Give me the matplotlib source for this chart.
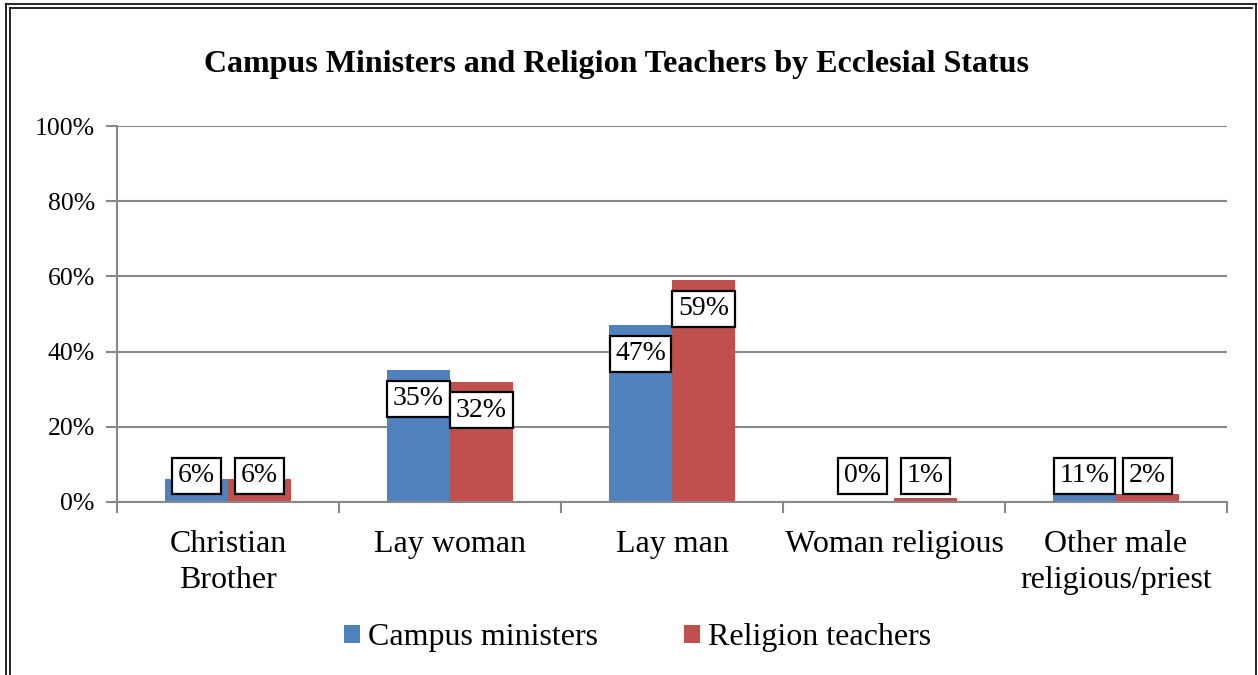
import numpy as np
import matplotlib.pyplot as plt
from matplotlib.lines import Line2D

plt.rcParams['font.family'] = ['Liberation Serif', 'DejaVu Serif']

# Datos
categorias = ["Christian\nBrother", "Lay woman", "Lay man", "Woman religious", "Other male\nreligious/priest"]
campus = [6, 35, 47, 0, 2]
religion = [6, 32, 59, 1, 2]
etiquetas_campus = ["6%", "35%", "47%", "0%", "11%"]
etiquetas_religion = ["6%", "32%", "59%", "1%", "2%"]
series = ["Campus ministers", "Religion teachers"]
colores = ["#4F81BD", "#C0504D"]

fig = plt.figure(figsize=(12.58, 6.75), dpi=100)
ax = fig.add_axes([0.093, 0.2563, 0.8824, 0.557])

x = np.arange(len(categorias))
w = 0.284
ax.bar(x - w/2, campus, w, color=colores[0], label=series[0], zorder=2)
ax.bar(x + w/2, religion, w, color=colores[1], label=series[1], zorder=2)

caja = dict(boxstyle="square,pad=0.2", fc="white", ec="black", lw=1.6)
for xs, vals, labs in [(x - w/2, campus, etiquetas_campus), (x + w/2, religion, etiquetas_religion)]:
    for xi, v, lab in zip(xs, vals, labs):
        yc = max(v - 7.6, 7)
        ax.text(xi, yc, lab, ha="center", va="center", fontsize=20, bbox=caja, zorder=4)

ax.set_xlim(-0.5, len(categorias) - 0.5)
ax.set_ylim(0, 100)
ax.set_yticks(np.arange(0, 101, 20))
ax.set_yticklabels([f"{t}%" for t in range(0, 101, 20)], fontsize=18.5)
ax.yaxis.grid(True, color="#888888", lw=1.5, zorder=0)
ax.set_axisbelow(True)

# marcas en los bordes de categoría
ax.set_xticks(np.arange(-0.5, len(categorias), 1.0))
ax.set_xticklabels([])
ax.set_xticks(x, minor=True)
ax.set_xticklabels(categorias, minor=True, fontsize=23, linespacing=1.32)
ax.tick_params(axis="x", which="minor", length=0, pad=20)
ax.tick_params(axis="x", which="major", length=8, color="#888888", width=1.5, direction="out")
ax.tick_params(axis="y", length=8, color="#888888", width=1.5, pad=8)

for s in ["top", "right"]:
    ax.spines[s].set_visible(False)
for s in ["left", "bottom"]:
    ax.spines[s].set_color("#888888")
    ax.spines[s].set_linewidth(1.5)

fig.text(0.49, 0.905, "Campus Ministers and Religion Teachers by Ecclesial Status",
         ha="center", va="center", fontsize=23, fontweight="bold")

fig.legend(loc="center", bbox_to_anchor=(0.507, 0.055), ncol=2, frameon=False,
           fontsize=23, handlelength=0.5, handleheight=0.5, handletextpad=0.25,
           columnspacing=2.7)

# borde doble
def linea(xs, ys, **kw):
    fig.add_artist(Line2D(xs, ys, transform=fig.transFigure, color="black", **kw))

W, H = 1258, 675
linea([6/W, 6/W], [0, 1 - 4/H], lw=1.2)
linea([6/W, 1256/W], [1 - 4/H, 1 - 4/H], lw=1.2)
linea([1256/W, 1256/W], [0, 1 - 4/H], lw=1.2)
linea([9.5/W, 9.5/W], [0, 1 - 7.5/H], lw=1.2)
linea([9.5/W, 1252/W], [1 - 7.5/H, 1 - 7.5/H], lw=1.2)

fig.savefig("out.png", dpi=100)
